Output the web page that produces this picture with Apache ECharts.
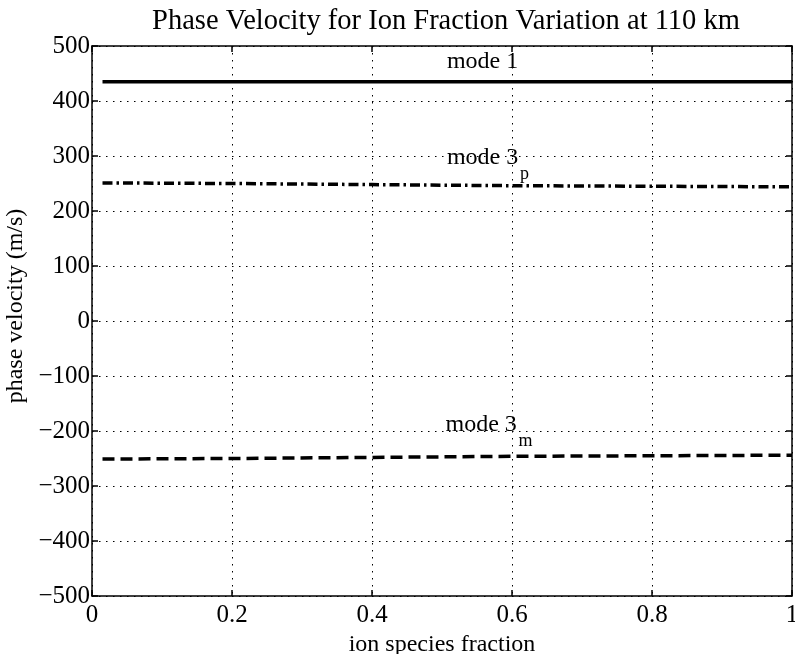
<!DOCTYPE html>
<html>
<head>
<meta charset="utf-8">
<script src="https://cdn.jsdelivr.net/npm/echarts@6/dist/echarts.min.js"></script>
<style>
  html, body { margin: 0; padding: 0; background: #fff; }
  #main { width: 795px; height: 654px; }
</style>
</head>
<body>
<div id="main"></div>
<script>
  // values
  var fraction = [0.015, 0.2, 0.4, 0.6, 0.8, 1.0];
  var mode1 = [435, 435, 435, 435, 435, 435];
  var mode3p = [251, 250, 248, 246, 245, 244];
  var mode3m = [-251, -250, -248, -246, -245, -244];

  var font = '"Liberation Serif", "Times New Roman", serif';

  function pairs(xs, ys) {
    return xs.map(function(x, i) { return [x, ys[i]]; });
  }

  var dotted = { show: true, lineStyle: { color: '#000', width: 1, type: [1.5, 5.5] } };
  var tick = { show: true, inside: true, length: 6, lineStyle: { color: '#000', width: 1.5 } };
  var axLine = { show: true, onZero: false, lineStyle: { color: '#000', width: 1.5 } };

  var option = {
    animation: false,
    backgroundColor: '#fff',
    title: {
      text: 'Phase Velocity for Ion Fraction Variation at 110 km',
      left: 441, top: 2, textAlign: 'center',
      textStyle: { fontFamily: font, fontSize: 28.5, fontWeight: 'normal', color: '#000' }
    },
    grid: { left: 92, right: 3, top: 46, bottom: 58, outerBoundsMode: 'none', containLabel: false },
    xAxis: [{
      type: 'value', min: 0, max: 1, interval: 0.2,
      axisLine: axLine, axisTick: tick, splitLine: dotted,
      axisLabel: {
        color: '#000', fontFamily: font, fontSize: 25, margin: 7,
        formatter: function(v) { return String(+v.toFixed(1)); }
      },
      name: 'ion species fraction', nameLocation: 'middle', nameGap: 35,
      nameTextStyle: { color: '#000', fontFamily: font, fontSize: 24 }
    }, {
      type: 'value', min: 0, max: 1, interval: 0.2, position: 'top',
      axisLine: axLine, axisTick: tick, axisLabel: { show: false }, splitLine: { show: false }
    }],
    yAxis: [{
      type: 'value', min: -500, max: 500, interval: 100,
      axisLine: axLine, axisTick: tick, splitLine: dotted,
      axisLabel: {
        color: '#000', fontFamily: font, fontSize: 25, margin: 2,
        formatter: function(v) { return String(v).replace('-', '\u2212'); }
      },
      name: 'phase velocity (m/s)', nameLocation: 'middle', nameGap: 60,
      nameTextStyle: { color: '#000', fontFamily: font, fontSize: 24, padding: [0, 0, 0, 30] }
    }, {
      type: 'value', min: -500, max: 500, interval: 100, position: 'right',
      axisLine: axLine, axisTick: tick, axisLabel: { show: false }, splitLine: { show: false }
    }],
    series: [{
      name: 'mode 1', type: 'line', symbol: 'none',
      data: pairs(fraction, mode1),
      lineStyle: { color: '#000', width: 3.5, type: 'solid' }
    }, {
      name: 'mode 3p', type: 'line', symbol: 'none',
      data: pairs(fraction, mode3p),
      lineStyle: { color: '#000', width: 3.5, type: [10, 4, 2.5, 4] }
    }, {
      name: 'mode 3m', type: 'line', symbol: 'none',
      data: pairs(fraction, mode3m),
      lineStyle: { color: '#000', width: 3.5, type: [12, 6] }
    }]
  };

  var chart = echarts.init(document.getElementById('main'));
  chart.setOption(option);

  // mode labels placed at data coordinates
  var labels = [
    { x: 0.507, y: 471, main: 'mode 1', sub: '' },
    { x: 0.507, y: 296, main: 'mode 3', sub: 'p' },
    { x: 0.505, y: -189, main: 'mode 3', sub: 'm' }
  ];
  var els = [];
  labels.forEach(function(l) {
    var p = chart.convertToPixel({ xAxisIndex: 0, yAxisIndex: 0 }, [l.x, l.y]);
    els.push({
      type: 'text', x: p[0], y: p[1],
      style: { text: l.main, fontFamily: font, fontSize: 24, fill: '#000', verticalAlign: 'middle', align: 'left' }
    });
    if (l.sub) {
      els.push({
        type: 'text', x: p[0] + 73, y: p[1] + 16,
        style: { text: l.sub, fontFamily: font, fontSize: 18, fill: '#000', verticalAlign: 'middle', align: 'left' }
      });
    }
  });
  chart.setOption({ graphic: els });
</script>
</body>
</html>
